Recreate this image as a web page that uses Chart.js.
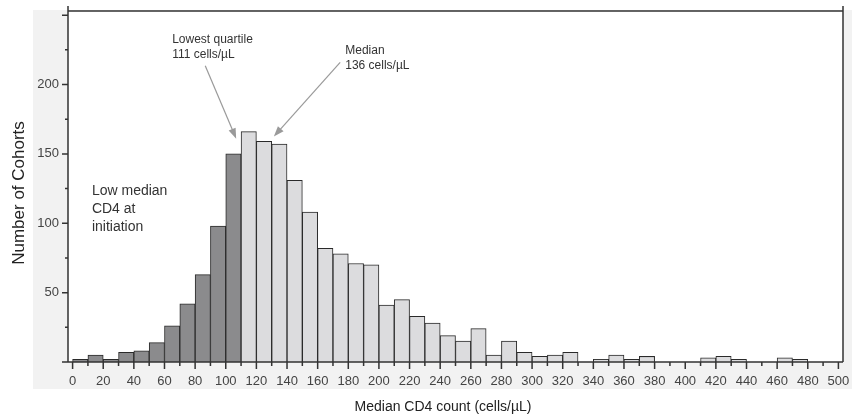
<!DOCTYPE html>
<html>
<head>
<meta charset="utf-8">
<script src="https://cdn.jsdelivr.net/npm/chart.js@4.4.1/dist/chart.umd.min.js"></script>
<style>
    html, body { margin: 0; padding: 0; background: #fff; }
    #wrap { width: 852px; height: 420px; }
</style>
</head>
<body>
<div id="wrap"><canvas id="cd4Graph"></canvas></div>
<script>
//Dados (bins de 10 cells/µL)
const binStarts = [0, 10, 20, 30, 40, 50, 60, 70, 80, 90,
    100, 110, 120, 130, 140, 150, 160, 170, 180, 190,
    200, 210, 220, 230, 240, 250, 260, 270, 280, 290,
    300, 310, 320, 330, 340, 350, 360, 370, 380, 390,
    400, 410, 420, 430, 440, 450, 460, 470, 480, 490];
const cohortCounts = [2, 5, 2, 7, 8, 14, 26, 42, 63, 98,
    150, 166, 159, 157, 131, 108, 82, 78, 71, 70,
    41, 45, 33, 28, 19, 15, 24, 5, 15, 7,
    4, 5, 7, 0, 2, 5, 2, 4, 0, 0,
    0, 3, 4, 2, 0, 0, 3, 2, 0, 0];
const xTickLabels = [0, 20, 40, 60, 80, 100, 120, 140, 160, 180, 200, 220, 240,
    260, 280, 300, 320, 340, 360, 380, 400, 420, 440, 460, 480, 500];
const yTickLabels = [50, 100, 150, 200];
const lowestQuartileEnd = 110;

//Anotações
const notes = [
    { lines: ["Lowest quartile", "111 cells/µL"], x: 65, y: 232, size: 12, step: 15 },
    { lines: ["Median", "136 cells/µL"], x: 178, y: 224.5, size: 12, step: 15 },
    { lines: ["Low median", "CD4 at", "initiation"], x: 12.6, y: 123, size: 14, step: 18 }
];
const arrows = [
    { from: [86.6, 213.5], to: [106.8, 161] },
    { from: [174.7, 216], to: [131.4, 162.5] }
];

const FONT = "'Liberation Sans', Arial, sans-serif";
const INK = '#333';

const bars = binStarts.map((b, i) => ({ x: b + 5, y: cohortCounts[i] || null }));

//Fundo e eixos
const framePlugin = {
    id: 'frame',
    beforeDraw(chart) {
        const { ctx, chartArea: a } = chart;
        ctx.save();
        ctx.fillStyle = '#f2f2f2';
        ctx.fillRect(33, a.top - 1, chart.width - 33, 389 - a.top + 1);
        ctx.fillStyle = '#fff';
        ctx.fillRect(a.left, a.top, a.right - a.left, a.bottom - a.top);
        ctx.restore();
    },
    afterDatasetsDraw(chart) {
        const { ctx, chartArea: a, scales: { x, y } } = chart;
        ctx.save();
        ctx.strokeStyle = INK;
        ctx.lineWidth = 1.5;
        ctx.beginPath();
        ctx.moveTo(a.left, a.top - 5); ctx.lineTo(a.left, a.bottom);
        ctx.moveTo(a.right, a.top - 5); ctx.lineTo(a.right, a.bottom);
        ctx.moveTo(a.left, a.top); ctx.lineTo(a.right, a.top);
        ctx.moveTo(a.left, a.bottom); ctx.lineTo(a.right, a.bottom);
        for (let v = 0; v <= 500; v += 10) {
            const px = x.getPixelForValue(v);
            ctx.moveTo(px, a.bottom);
            ctx.lineTo(px, a.bottom + (v % 20 === 0 ? 7 : 4));
        }
        for (let v = 0; v <= 250; v += 25) {
            const py = y.getPixelForValue(v);
            ctx.moveTo(a.left, py);
            ctx.lineTo(a.left - (v % 50 === 0 ? 6 : 3), py);
        }
        ctx.stroke();
        ctx.restore();
    },
    afterDraw(chart) {
        const { ctx, scales: { x, y } } = chart;
        ctx.save();
        ctx.fillStyle = INK;
        ctx.textBaseline = 'middle';
        notes.forEach(n => {
            ctx.font = n.size + 'px ' + FONT;
            const px = x.getPixelForValue(n.x), py = y.getPixelForValue(n.y);
            n.lines.forEach((t, i) => ctx.fillText(t, px, py + i * n.step));
        });
        ctx.strokeStyle = '#9a9a9a';
        ctx.fillStyle = '#9a9a9a';
        ctx.lineWidth = 1.2;
        arrows.forEach(ar => {
            const x0 = x.getPixelForValue(ar.from[0]), y0 = y.getPixelForValue(ar.from[1]);
            const x1 = x.getPixelForValue(ar.to[0]), y1 = y.getPixelForValue(ar.to[1]);
            const ang = Math.atan2(y1 - y0, x1 - x0);
            ctx.beginPath();
            ctx.moveTo(x0, y0);
            ctx.lineTo(x1 - 8 * Math.cos(ang), y1 - 8 * Math.sin(ang));
            ctx.stroke();
            ctx.beginPath();
            ctx.moveTo(x1, y1);
            ctx.lineTo(x1 - 11 * Math.cos(ang - 0.35), y1 - 11 * Math.sin(ang - 0.35));
            ctx.lineTo(x1 - 11 * Math.cos(ang + 0.35), y1 - 11 * Math.sin(ang + 0.35));
            ctx.closePath();
            ctx.fill();
        });
        //Títulos dos eixos
        ctx.fillStyle = '#222';
        ctx.font = '14px ' + FONT;
        ctx.textAlign = 'center';
        ctx.fillText('Median CD4 count (cells/µL)', 443, 407);
        ctx.translate(19, 193);
        ctx.rotate(-Math.PI / 2);
        ctx.font = '17px ' + FONT;
        ctx.fillText('Number of Cohorts', 0, 0);
        ctx.restore();
    }
};

const cd4_ctx = document.getElementById('cd4Graph').getContext('2d');

const cd4Graph = new Chart(cd4_ctx, {
    type: 'bar',
    data: {
        datasets: [{
            label: 'Number of Cohorts',
            data: bars,
            backgroundColor: binStarts.map(b => b < lowestQuartileEnd ? '#8b8b8d' : '#dcdcde'),
            borderColor: '#2a2a2a',
            borderWidth: 1,
            categoryPercentage: 1,
            barPercentage: 1
        }]
    },
    options: {
        responsive: true,
        maintainAspectRatio: false,
        animation: false,
        layout: { padding: { top: 11, right: 9, left: 0, bottom: 0 } },
        plugins: {
            legend: { display: false },
            tooltip: { enabled: false }
        },
        scales: {
            x: {
                type: 'linear',
                offset: false,
                min: -3,
                max: 503,
                afterBuildTicks: s => { s.ticks = xTickLabels.map(v => ({ value: v })); },
                afterFit: s => { s.height = 58; s.paddingLeft = 0; s.paddingRight = 0; },
                grid: { display: false, drawTicks: false, offset: false },
                border: { display: false },
                ticks: {
                    padding: 12,
                    maxRotation: 0,
                    autoSkip: false,
                    color: '#444',
                    font: { family: FONT, size: 13 }
                }
            },
            y: {
                min: 0,
                max: 253,
                afterBuildTicks: s => { s.ticks = yTickLabels.map(v => ({ value: v })); },
                afterFit: s => { s.width = 68; s.paddingTop = 0; s.paddingBottom = 0; },
                grid: { display: false, drawTicks: false },
                border: { display: false },
                ticks: {
                    padding: 9,
                    color: '#444',
                    font: { family: FONT, size: 13 }
                }
            }
        }
    },
    plugins: [framePlugin]
});
</script>
</body>
</html>
